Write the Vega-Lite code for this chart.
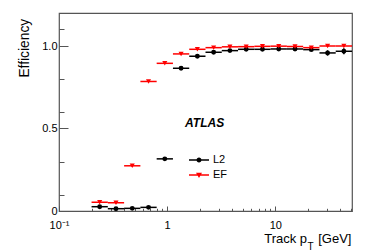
{
  "$schema": "https://vega.github.io/schema/vega-lite/v6.json",
  "width": 293,
  "height": 198,
  "autosize": {"type": "none"},
  "padding": {"left": 59, "top": 13, "right": 22, "bottom": 41},
  "background": "white",
  "config": {
    "font": "Liberation Sans",
    "view": {"stroke": "#555", "strokeWidth": 1.2},
    "axis": {"domain": false, "grid": false, "tickColor": "#555", "tickWidth": 1, "labelColor": "black", "labelFont": "Liberation Sans", "labelFontSize": 11, "titleFont": "Liberation Sans", "titleFontWeight": "normal", "titleColor": "black", "labelFlush": false}
  },
  "data": {"values": [
    {"series": "L2", "x": 0.2378, "xlo": 0.2, "xhi": 0.2828, "y": 0.026, "ylo": 0.020, "yhi": 0.032},
    {"series": "L2", "x": 0.3364, "xlo": 0.2828, "xhi": 0.4, "y": 0.014, "ylo": 0.010, "yhi": 0.018},
    {"series": "L2", "x": 0.4757, "xlo": 0.4, "xhi": 0.5657, "y": 0.016, "ylo": 0.012, "yhi": 0.020},
    {"series": "L2", "x": 0.6727, "xlo": 0.5657, "xhi": 0.8, "y": 0.022, "ylo": 0.018, "yhi": 0.026},
    {"series": "L2", "x": 0.9514, "xlo": 0.8, "xhi": 1.1314, "y": 0.316, "ylo": 0.310, "yhi": 0.322},
    {"series": "L2", "x": 1.3454, "xlo": 1.1314, "xhi": 1.6, "y": 0.865, "ylo": 0.860, "yhi": 0.870},
    {"series": "L2", "x": 1.9027, "xlo": 1.6, "xhi": 2.2627, "y": 0.938, "ylo": 0.934, "yhi": 0.942},
    {"series": "L2", "x": 2.6909, "xlo": 2.2627, "xhi": 3.2, "y": 0.962, "ylo": 0.958, "yhi": 0.966},
    {"series": "L2", "x": 3.8055, "xlo": 3.2, "xhi": 4.5255, "y": 0.972, "ylo": 0.968, "yhi": 0.976},
    {"series": "L2", "x": 5.3817, "xlo": 4.5255, "xhi": 6.4, "y": 0.980, "ylo": 0.976, "yhi": 0.984},
    {"series": "L2", "x": 7.6109, "xlo": 6.4, "xhi": 9.051, "y": 0.980, "ylo": 0.976, "yhi": 0.984},
    {"series": "L2", "x": 10.7635, "xlo": 9.051, "xhi": 12.8, "y": 0.982, "ylo": 0.977, "yhi": 0.987},
    {"series": "L2", "x": 15.2219, "xlo": 12.8, "xhi": 18.102, "y": 0.982, "ylo": 0.976, "yhi": 0.988},
    {"series": "L2", "x": 21.527, "xlo": 18.102, "xhi": 25.6, "y": 0.978, "ylo": 0.970, "yhi": 0.986},
    {"series": "L2", "x": 30.4437, "xlo": 25.6, "xhi": 36.204, "y": 0.958, "ylo": 0.942, "yhi": 0.974},
    {"series": "L2", "x": 43.054, "xlo": 36.204, "xhi": 51.2, "y": 0.968, "ylo": 0.950, "yhi": 0.986},
    {"series": "EF", "x": 0.2378, "xlo": 0.2, "xhi": 0.2828, "y": 0.053, "ylo": 0.049, "yhi": 0.057},
    {"series": "EF", "x": 0.3364, "xlo": 0.2828, "xhi": 0.4, "y": 0.050, "ylo": 0.046, "yhi": 0.054},
    {"series": "EF", "x": 0.4757, "xlo": 0.4, "xhi": 0.5657, "y": 0.274, "ylo": 0.270, "yhi": 0.278},
    {"series": "EF", "x": 0.6727, "xlo": 0.5657, "xhi": 0.8, "y": 0.785, "ylo": 0.781, "yhi": 0.789},
    {"series": "EF", "x": 0.9514, "xlo": 0.8, "xhi": 1.1314, "y": 0.895, "ylo": 0.892, "yhi": 0.898},
    {"series": "EF", "x": 1.3454, "xlo": 1.1314, "xhi": 1.6, "y": 0.952, "ylo": 0.949, "yhi": 0.955},
    {"series": "EF", "x": 1.9027, "xlo": 1.6, "xhi": 2.2627, "y": 0.980, "ylo": 0.977, "yhi": 0.983},
    {"series": "EF", "x": 2.6909, "xlo": 2.2627, "xhi": 3.2, "y": 0.990, "ylo": 0.987, "yhi": 0.993},
    {"series": "EF", "x": 3.8055, "xlo": 3.2, "xhi": 4.5255, "y": 0.995, "ylo": 0.992, "yhi": 0.998},
    {"series": "EF", "x": 5.3817, "xlo": 4.5255, "xhi": 6.4, "y": 0.996, "ylo": 0.993, "yhi": 0.999},
    {"series": "EF", "x": 7.6109, "xlo": 6.4, "xhi": 9.051, "y": 0.998, "ylo": 0.995, "yhi": 1.001},
    {"series": "EF", "x": 10.7635, "xlo": 9.051, "xhi": 12.8, "y": 0.999, "ylo": 0.996, "yhi": 1.002},
    {"series": "EF", "x": 15.2219, "xlo": 12.8, "xhi": 18.102, "y": 0.997, "ylo": 0.994, "yhi": 1.000},
    {"series": "EF", "x": 21.527, "xlo": 18.102, "xhi": 25.6, "y": 0.990, "ylo": 0.986, "yhi": 0.994},
    {"series": "EF", "x": 30.4437, "xlo": 25.6, "xhi": 36.204, "y": 1.0, "ylo": 0.996, "yhi": 1.004},
    {"series": "EF", "x": 43.054, "xlo": 36.204, "xhi": 51.2, "y": 1.0, "ylo": 0.995, "yhi": 1.005}
  ]},
  "resolve": {"axis": {"x": "independent", "y": "independent"}},
  "layer": [
    {
      "transform": [{"filter": "datum.series === 'L2'"}],
      "layer": [
        {
          "mark": {"type": "rule", "color": "black", "strokeWidth": 1.5},
          "encoding": {
            "x": {"field": "xlo", "type": "quantitative", "scale": {"type": "log", "domain": [0.1, 51.2], "nice": false},
              "axis": {"orient": "bottom", "values": [0.1, 1, 10], "tickSize": -5, "labelPadding": 13, "labelExpr": "datum.value < 0.5 ? '10⁻¹' : format(datum.value, 'd')", "title": "Track p", "titleFontSize": 13, "titleX": 247.6, "titleY": 31, "titleAlign": "right", "titleBaseline": "alphabetic"}},
            "x2": {"field": "xhi"},
            "y": {"field": "y", "type": "quantitative", "scale": {"domain": [0, 1.2], "nice": false},
              "axis": {"orient": "left", "values": [0, 0.5, 1], "tickSize": -9, "labelPadding": 11, "labelExpr": "datum.value == 0 ? '0' : format(datum.value, '.1f')", "title": "Efficiency", "titleFontSize": 13.8, "titleAngle": -90, "titleX": -30.3, "titleY": 5.3, "titleAlign": "right", "titleBaseline": "alphabetic"}}
          }
        },
        {
          "mark": {"type": "rule", "color": "black", "strokeWidth": 1.5},
          "encoding": {
            "x": {"field": "x", "type": "quantitative"},
            "y": {"field": "ylo", "type": "quantitative"},
            "y2": {"field": "yhi"}
          }
        },
        {
          "mark": {"type": "point", "filled": true, "opacity": 1, "size": 24, "shape": "circle", "color": "black"},
          "encoding": {
            "x": {"field": "x", "type": "quantitative"},
            "y": {"field": "y", "type": "quantitative"}
          }
        }
      ]
    },
    {
      "transform": [{"filter": "datum.series === 'EF'"}],
      "layer": [
        {
          "mark": {"type": "rule", "color": "red", "strokeWidth": 1.5},
          "encoding": {
            "x": {"field": "xlo", "type": "quantitative", "scale": {"type": "log", "domain": [0.1, 51.2], "nice": false},
              "axis": {"orient": "bottom", "values": [0.2, 0.3, 0.4, 0.5, 0.6, 0.7, 0.8, 0.9, 2, 3, 4, 5, 6, 7, 8, 9, 20, 30, 40, 50], "tickSize": -2.7, "labels": false, "title": "T", "titleFontSize": 10, "titleX": 248, "titleY": 38.5, "titleAlign": "left", "titleBaseline": "alphabetic"}},
            "x2": {"field": "xhi"},
            "y": {"field": "y", "type": "quantitative", "scale": {"domain": [0, 1.2], "nice": false},
              "axis": {"orient": "left", "values": [0.1, 0.2, 0.3, 0.4, 0.6, 0.7, 0.8, 0.9, 1.1], "tickSize": -5, "labels": false, "title": null}}
          }
        },
        {
          "mark": {"type": "rule", "color": "red", "strokeWidth": 1.5},
          "encoding": {
            "x": {"field": "x", "type": "quantitative"},
            "y": {"field": "ylo", "type": "quantitative"},
            "y2": {"field": "yhi"}
          }
        },
        {
          "mark": {"type": "point", "filled": true, "opacity": 1, "size": 26, "shape": "triangle-down", "color": "red"},
          "encoding": {
            "x": {"field": "x", "type": "quantitative"},
            "y": {"field": "y", "type": "quantitative"}
          }
        }
      ]
    },
    {
      "mark": {"type": "point", "filled": true, "opacity": 0, "size": 400},
      "encoding": {
        "x": {"field": "x", "type": "quantitative", "axis": null},
        "y": {"field": "y", "type": "quantitative", "axis": null},
        "color": {"field": "series", "type": "nominal", "scale": {"domain": ["L2", "EF"], "range": ["black", "red"]},
          "legend": {"orient": "none", "legendX": 130, "legendY": 137, "title": null, "symbolSize": 400, "symbolOpacity": 1, "labelFontSize": 11, "labelFont": "Liberation Sans", "labelColor": "black", "labelOffset": 4, "padding": 0, "rowPadding": -1.4, "symbolStrokeWidth": 0}},
        "shape": {"field": "series", "type": "nominal", "scale": {"domain": ["L2", "EF"], "range": ["M-1,-0.075H1V0.075H-1ZM-0.25,0A0.25,0.25 0 1 1 0.25,0A0.25,0.25 0 1 1 -0.25,0Z", "M-1,-0.075H1V0.075H-1ZM-0.3,-0.22H0.3L0,0.3Z"]},
          "legend": {"orient": "none", "legendX": 130, "legendY": 137, "title": null, "symbolSize": 400, "symbolOpacity": 1, "labelFontSize": 11, "labelFont": "Liberation Sans", "labelColor": "black", "labelOffset": 4, "padding": 0, "rowPadding": -1.4, "symbolStrokeWidth": 0}}
      }
    },
    {
      "data": {"values": [{"label": "ATLAS"}]},
      "mark": {"type": "text", "fontSize": 12, "fontWeight": "bold", "fontStyle": "italic", "font": "Liberation Sans", "color": "black", "align": "center", "baseline": "middle"},
      "encoding": {
        "text": {"field": "label"},
        "x": {"datum": 2.22, "type": "quantitative", "scale": {"type": "log", "domain": [0.1, 51.2], "nice": false},
          "axis": {"orient": "bottom", "values": [], "ticks": false, "labels": false, "title": "[GeV]", "titleFontSize": 13, "titleX": 292, "titleY": 31, "titleAlign": "right", "titleBaseline": "alphabetic"}},
        "y": {"datum": 0.534, "type": "quantitative", "scale": {"domain": [0, 1.2], "nice": false}, "axis": null}
      }
    }
  ]
}
